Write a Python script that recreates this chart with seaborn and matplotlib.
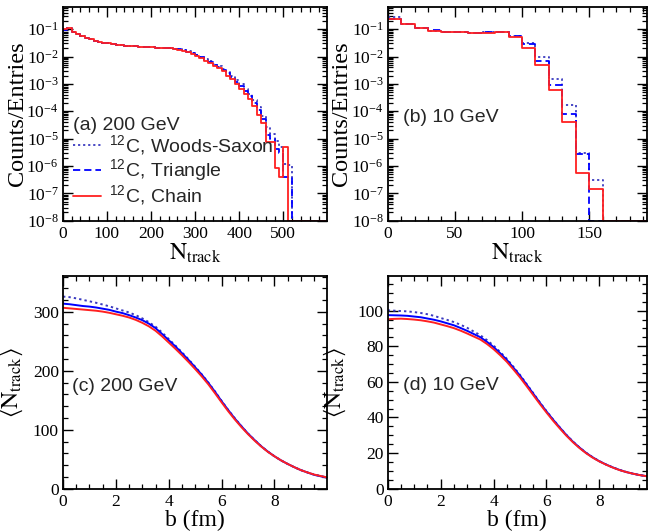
import numpy as np
import pandas as pd
import matplotlib
matplotlib.use("Agg")
import matplotlib.pyplot as plt
import seaborn as sns
from matplotlib.lines import Line2D
from matplotlib.ticker import MultipleLocator, LogLocator, NullFormatter, LogFormatterSciNotation

# ---------------- data ----------------
# (a) 200 GeV : N_track distributions, bins of 10 starting at 0
bin_w_200 = 10
ws_200 = [0.095, 0.113, 0.081, 0.065, 0.056, 0.048, 0.043, 0.038, 0.034, 0.032,
          0.030, 0.028, 0.027, 0.026, 0.025, 0.024, 0.0235, 0.023, 0.0225, 0.022,
          0.0215, 0.021, 0.021, 0.0205, 0.020, 0.0194, 0.0183, 0.0169, 0.0155, 0.0136,
          0.0114, 0.0096, 0.0080, 0.0066, 0.0054, 0.0044, 0.0036, 0.0027, 0.0020, 0.0014,
          9.5e-4, 6.5e-4, 4.3e-4, 2.5e-4, 1.4e-4, 6.5e-5, 2.6e-5, 1.5e-5, 8.0e-6, 5.0e-6,
          1.2e-6, 1.1e-6, 0, 0, 0, 0, 0, 0, 0, 0]
tri_200 = [0.097, 0.112, 0.081, 0.065, 0.056, 0.048, 0.043, 0.038, 0.034, 0.032,
           0.030, 0.028, 0.027, 0.026, 0.025, 0.024, 0.0235, 0.023, 0.0225, 0.022,
           0.0215, 0.021, 0.021, 0.0205, 0.020, 0.0193, 0.0182, 0.0167, 0.0152, 0.0132,
           0.0110, 0.0092, 0.0076, 0.0062, 0.0050, 0.0041, 0.0033, 0.0024, 0.0018, 0.0012,
           8.2e-4, 5.5e-4, 3.6e-4, 2.0e-4, 1.1e-4, 5.0e-5, 1.4e-5, 1.0e-5, 4.0e-6, 3.0e-6,
           4.0e-7, 4.0e-7, 0, 0, 0, 0, 0, 0, 0, 0]
chain_200 = [0.098, 0.112, 0.080, 0.065, 0.056, 0.048, 0.043, 0.038, 0.034, 0.032,
             0.030, 0.028, 0.027, 0.026, 0.025, 0.024, 0.0235, 0.023, 0.0225, 0.022,
             0.0215, 0.021, 0.021, 0.0205, 0.020, 0.0192, 0.0180, 0.0165, 0.0148, 0.0128,
             0.0105, 0.0087, 0.0071, 0.0057, 0.0046, 0.0037, 0.0030, 0.0020, 0.00145, 0.00095,
             6.5e-4, 4.3e-4, 2.7e-4, 1.5e-4, 7.4e-5, 3.6e-5, 7.5e-6, 7.5e-6, 8.5e-7, 4.1e-7,
             4.8e-6, 0, 0, 0, 0, 0, 0, 0, 0, 0]

# (b) 10 GeV : bins of 10 starting at 0
bin_w_10 = 10
ws_10 = [0.27, 0.16, 0.11, 0.089, 0.081, 0.076, 0.075, 0.076, 0.078, 0.058,
         0.032, 9.5e-3, 1.5e-3, 1.66e-4, 2.9e-6, 3.0e-7, 0, 0, 0, 0]
tri_10 = [0.24, 0.16, 0.112, 0.090, 0.082, 0.076, 0.075, 0.076, 0.078, 0.057,
          0.028, 7.1e-3, 9.1e-4, 8.0e-5, 2.8e-6, 0, 0, 0, 0, 0]
chain_10 = [0.23, 0.156, 0.11, 0.089, 0.082, 0.077, 0.075, 0.075, 0.076, 0.051,
            0.020, 4.7e-3, 6.0e-4, 4.2e-5, 5.5e-7, 1.5e-7, 0, 0, 0, 0]

# (c),(d) <N_track> vs impact parameter b (fm)
b_fm = [0.00, 0.25, 0.50, 0.75, 1.00, 1.25, 1.50, 1.75, 2.00, 2.25,
        2.50, 2.75, 3.00, 3.25, 3.50, 3.75, 4.00, 4.25, 4.50, 4.75,
        5.00, 5.25, 5.50, 5.75, 6.00, 6.25, 6.50, 6.75, 7.00, 7.25,
        7.50, 7.75, 8.00, 8.25, 8.50, 8.75, 9.00, 9.25, 9.50, 9.75, 10.00]
ws_b200 = [326, 325, 323, 320.5, 318, 315.5, 312.5, 309.5, 306, 302.5,
           299, 294.5, 289, 282.5, 275, 265, 254, 243, 231.5, 219.5,
           207, 194, 180, 165, 149, 133.5, 119.5, 106, 93.5, 82.5,
           72, 63, 55, 48, 42, 36.5, 31.5, 27.5, 24, 21.5, 19]
tri_b200 = [314, 313, 311.5, 310, 309, 307.5, 305.5, 303.5, 300.5, 298,
            294.5, 290.5, 286, 280, 272.5, 262.5, 252, 241.5, 230, 218.5,
            206, 193.5, 179.5, 164.5, 148.5, 133.5, 119, 106, 93.5, 82.5,
            72, 63, 55, 48, 42, 36.5, 31.5, 27.5, 23.5, 21, 18.5]
chain_b200 = [307, 306, 305, 304, 303, 302, 300.5, 298.5, 296, 293.5,
              290.5, 286.5, 281.5, 275.5, 268, 258.5, 248, 237.5, 226.5, 215,
              203, 190.5, 177, 162, 146.5, 131.5, 117.5, 104.5, 92.5, 81.5,
              71.5, 62.5, 55, 48, 42, 36.5, 31.5, 27.5, 24, 21.5, 19]
ws_b10 = [100.2, 100.0, 99.8, 99.6, 99.2, 98.7, 98.0, 97.1, 95.9, 94.8,
          93.6, 92.1, 90.4, 88.3, 86.2, 83.5, 80.4, 76.8, 73.0, 68.5,
          63.9, 58.8, 53.7, 48.5, 43.6, 38.9, 34.5, 30.3, 26.5, 23.1,
          20.2, 17.6, 15.5, 13.6, 12.0, 10.6, 9.5, 8.5, 7.7, 7.1, 6.6]
tri_b10 = [97.5, 97.4, 97.3, 97.1, 96.7, 96.3, 95.6, 94.9, 94.0, 92.9,
           91.8, 90.3, 88.7, 86.9, 85.1, 82.5, 79.6, 76.1, 72.4, 68.0,
           63.5, 58.5, 53.4, 48.3, 43.4, 38.8, 34.4, 30.2, 26.4, 23.1,
           20.1, 17.6, 15.4, 13.6, 12.0, 10.6, 9.4, 8.5, 7.7, 7.1, 6.6]
chain_b10 = [95.2, 95.4, 95.5, 95.3, 95.0, 94.6, 94.0, 93.3, 92.3, 91.3,
             90.2, 88.8, 87.2, 85.5, 83.8, 81.3, 78.4, 75.0, 71.3, 67.0,
             62.5, 57.6, 52.6, 47.6, 42.8, 38.2, 33.9, 29.8, 26.1, 22.8,
             19.9, 17.4, 15.3, 13.5, 11.9, 10.5, 9.4, 8.5, 7.7, 7.1, 6.6]

labels = ["$^{\\mathdefault{12}}$C, Woods-Saxon", "$^{\\mathdefault{12}}$C, Triangle",
          "$^{\\mathdefault{12}}$C, Chain"]

# ---------------- style ----------------
sns.set_theme(style="ticks")
plt.rcParams.update({
    "font.family": ["Liberation Serif", "DejaVu Serif"],
    "mathtext.fontset": "stix",
    "axes.edgecolor": "black",
    "axes.linewidth": 1.3,
    "xtick.color": "black", "ytick.color": "black",
    "xtick.direction": "in", "ytick.direction": "in",
    "xtick.top": True, "ytick.right": True,
    "xtick.major.size": 7, "ytick.major.size": 7,
    "xtick.minor.size": 3.5, "ytick.minor.size": 3.5,
    "xtick.major.width": 1.0, "ytick.major.width": 1.0,
    "xtick.minor.width": 0.9, "ytick.minor.width": 0.9,
    "xtick.labelsize": 12.5, "ytick.labelsize": 12.5,
    "axes.labelsize": 17,
    "xtick.major.pad": 3.5, "ytick.major.pad": 3,
})

c_ws, c_tri, c_ch = "#3a3ac0", "#0000ff", "#ff2020"
ls_ws, ls_tri, ls_ch = (0, (1.2, 1.6)), (0, (4, 2.2)), "-"
sans = "Liberation Sans"
YMIN, YMAX = 1e-8, 0.63

fig = plt.figure(figsize=(6.49, 5.31), dpi=100)
axA = fig.add_axes([0.0966, 0.5844, 0.4073, 0.4019])
axB = fig.add_axes([0.5974, 0.5844, 0.3995, 0.4019])
axC = fig.add_axes([0.0971, 0.0797, 0.4068, 0.4006])
axD = fig.add_axes([0.5974, 0.0797, 0.3995, 0.4006])


def draw_hist(ax, values, width, color, ls):
    vals = np.clip(np.asarray(values, float), YMIN, None)
    n = len(vals)
    edges = np.arange(n + 1) * width
    heights = np.append(vals, vals[-1])
    df = pd.DataFrame({"edge": edges, "h": heights})
    sns.lineplot(data=df, x="edge", y="h", drawstyle="steps-post", color=color,
                 linestyle=ls, linewidth=1.3, ax=ax, estimator=None)


for ax, data, w, xmax, maj, mnr in [
        (axA, (ws_200, tri_200, chain_200), bin_w_200, 599, 100, 20),
        (axB, (ws_10, tri_10, chain_10), bin_w_10, 193, 50, 10)]:
    for vals, col, ls in zip(data, (c_ws, c_tri, c_ch), (ls_ws, ls_tri, ls_ch)):
        draw_hist(ax, vals, w, col, ls)
    ax.set_yscale("log")
    ax.set_ylim(YMIN, YMAX)
    ax.set_xlim(0, xmax)
    ax.xaxis.set_major_locator(MultipleLocator(maj))
    ax.xaxis.set_minor_locator(MultipleLocator(mnr))
    ax.yaxis.set_major_locator(LogLocator(base=10, numticks=20))
    ax.yaxis.set_minor_locator(LogLocator(base=10, subs=np.arange(2, 10), numticks=20))
    ax.yaxis.set_major_formatter(LogFormatterSciNotation())
    ax.yaxis.set_minor_formatter(NullFormatter())
    ax.set_ylabel("Counts/Entries", fontsize=17.5)
    ax.set_xlabel(r"$\mathrm{N}_{\mathrm{track}}$")

for ax, data, ymax, ymaj, ymin_ in [
        (axC, (ws_b200, tri_b200, chain_b200), 361, 100, 20),
        (axD, (ws_b10, tri_b10, chain_b10), 119.5, 20, 5)]:
    for vals, col, ls in zip(data, (c_ws, c_tri, c_ch), (ls_ws, "-", "-")):
        sns.lineplot(x=b_fm, y=vals, color=col, linestyle=ls, linewidth=1.4, ax=ax)
    ax.set_ylim(0, ymax)
    ax.yaxis.set_major_locator(MultipleLocator(ymaj))
    ax.yaxis.set_minor_locator(MultipleLocator(ymin_))
    ax.xaxis.set_major_locator(MultipleLocator(2))
    ax.xaxis.set_minor_locator(MultipleLocator(0.5))
    ax.set_ylabel(r"$\langle \mathrm{N}_{\mathrm{track}} \rangle$")
    ax.set_xlabel("b (fm)")
axC.set_xlim(0, 9.99)
axD.set_xlim(0, 9.8)

for ax in (axA, axB, axC, axD):
    ax.tick_params(which="both", top=True, right=True, direction="in")
    ax.xaxis.label.set_color("black")
    ax.yaxis.label.set_color("black")

axA.yaxis.set_label_coords(-0.13, 0.5)
axB.yaxis.set_label_coords(-0.138, 0.5)
axC.yaxis.set_label_coords(-0.144, 0.5)
axD.yaxis.set_label_coords(-0.153, 0.5)
axA.xaxis.set_label_coords(0.5, -0.1)
axB.xaxis.set_label_coords(0.5, -0.1)
axC.xaxis.set_label_coords(0.5, -0.1)
axD.xaxis.set_label_coords(0.5, -0.1)

axA.text(0.038, 0.445, "(a) 200 GeV", transform=axA.transAxes, va="center", ha="left",
         fontsize=14, family=sans)
axB.text(0.06, 0.485, "(b) 10 GeV", transform=axB.transAxes, va="center", ha="left",
         fontsize=14, family=sans)
axC.text(0.033, 0.48, "(c) 200 GeV", transform=axC.transAxes, va="center", ha="left",
         fontsize=14, family=sans)
axD.text(0.06, 0.483, "(d) 10 GeV", transform=axD.transAxes, va="center", ha="left",
         fontsize=14, family=sans)

handles = [Line2D([], [], color=c_ws, linestyle=ls_ws, lw=1.3),
           Line2D([], [], color=c_tri, linestyle=ls_tri, lw=1.3),
           Line2D([], [], color=c_ch, linestyle=ls_ch, lw=1.3)]
axA.legend(handles, labels, loc="lower left", bbox_to_anchor=(0.04, 0.06),
           frameon=False, prop={"family": sans, "size": 14}, handlelength=1.45,
           handletextpad=0.4, labelspacing=0.0, borderaxespad=0.0, borderpad=0.0)

fig.savefig("out.png", dpi=100)
